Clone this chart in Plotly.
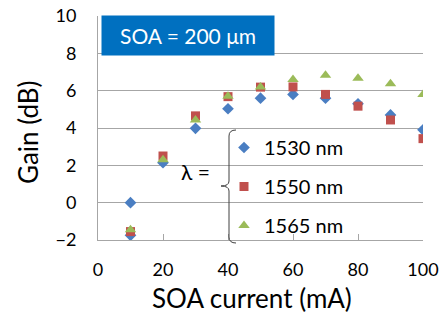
import plotly.graph_objects as go

current = [10, 10, 20, 30, 40, 50, 60, 70, 80, 90, 100]
gain_1530 = [0.0, -1.75, 2.14, 3.98, 5.03, 5.6, 5.8, 5.6, 5.3, 4.7, 3.9]
current_b = [10, 20, 30, 40, 50, 60, 70, 80, 90, 100]
gain_1550 = [-1.55, 2.5, 4.65, 5.68, 6.19, 6.2, 5.8, 5.17, 4.43, 3.43]
gain_1565 = [-1.45, 2.3, 4.43, 5.7, 6.2, 6.6, 6.83, 6.67, 6.37, 5.8]
names = ["1530 nm", "1550 nm", "1565 nm"]
x_ticks = [0, 20, 40, 60, 80, 100]
y_ticks = [-2, 0, 2, 4, 6, 8, 10]

FONT = "Lato"
W, H = 447, 324
L, R, T, B = 98, 423, 16, 240


def px(xp):
    return (xp - L) / (R - L)


def py(yp):
    return (B - yp) / (B - T)


fig = go.Figure()
fig.add_trace(go.Scatter(x=current, y=gain_1530, mode="markers", name=names[0],
                         legendgroup="a",
                         marker=dict(symbol="diamond", size=9, color="#4A7EC2")))
fig.add_trace(go.Scatter(x=current_b, y=gain_1550, mode="markers", name=names[1],
                         legendgroup="b",
                         marker=dict(symbol="square", size=9, color="#C0504D")))
fig.add_trace(go.Scatter(x=current_b, y=gain_1565, mode="markers", name=names[2],
                         legendgroup="c",
                         marker=dict(symbol="triangle-up", size=10, color="#9BBB59")))

# curly brace
tip = 221
path = (f"M {px(236)},{py(130)} Q {px(229)},{py(130)} {px(229)},{py(136)} "
        f"L {px(229)},{py(181)} Q {px(229)},{py(186)} {px(tip)},{py(186)} "
        f"Q {px(229)},{py(186)} {px(229)},{py(191)} "
        f"L {px(229)},{py(237)} Q {px(229)},{py(243)} {px(236)},{py(243)}")
shapes = [
    dict(type="path", xref="paper", yref="paper", path=path,
         line=dict(color="#404040", width=1)),
]

annotations = [
    dict(text="SOA = 200 μm", xref="paper", yref="paper", x=px(101), y=py(15),
         xanchor="left", yanchor="top", width=172, height=39, align="center",
         bgcolor="#0070C0", borderpad=0, showarrow=False,
         font=dict(family=FONT, size=21, color="white")),
    dict(text="λ =", xref="paper", yref="paper", x=px(212), y=py(186),
         xanchor="right", showarrow=False, font=dict(family=FONT, size=21, color="black")),
    dict(text="SOA current (mA)", xref="paper", yref="paper", x=px(252), y=py(298),
         xanchor="center", yanchor="middle", showarrow=False,
         font=dict(family=FONT, size=26, color="black")),
    dict(text="Gain (dB)", xref="paper", yref="paper", x=px(28), y=py(132),
         xanchor="center", yanchor="middle", textangle=-90, showarrow=False,
         font=dict(family=FONT, size=26, color="black")),
]

fig.update_layout(
    width=W, height=H,
    margin=dict(l=L, r=W - R, t=T, b=H - B),
    plot_bgcolor="white", paper_bgcolor="white",
    font=dict(family=FONT, color="black"),
    showlegend=True,
    legend=dict(x=px(224), y=py(128), xanchor="left", yanchor="top",
                bgcolor="rgba(0,0,0,0)", font=dict(family=FONT, size=20, color="black"),
                tracegroupgap=10, itemwidth=30),
    shapes=shapes,
    annotations=annotations,
    xaxis=dict(range=[0, 100], tickvals=x_ticks, showgrid=False, automargin=False,
               showline=True, linecolor="#A6A6A6", linewidth=1,
               ticks="inside", ticklen=6, tickcolor="#A6A6A6",
               ticklabelstandoff=13,
               tickfont=dict(family=FONT, size=18, color="black"),
               zeroline=False),
    yaxis=dict(range=[-2, 10], tickvals=y_ticks, showgrid=True, gridcolor="#A6A6A6",
               gridwidth=1, showline=True, linecolor="#A6A6A6", linewidth=1,
               ticks="", ticklabelstandoff=17, automargin=False,
               tickfont=dict(family=FONT, size=18, color="black"),
               zeroline=False),
)

fig.write_html("out.html")
